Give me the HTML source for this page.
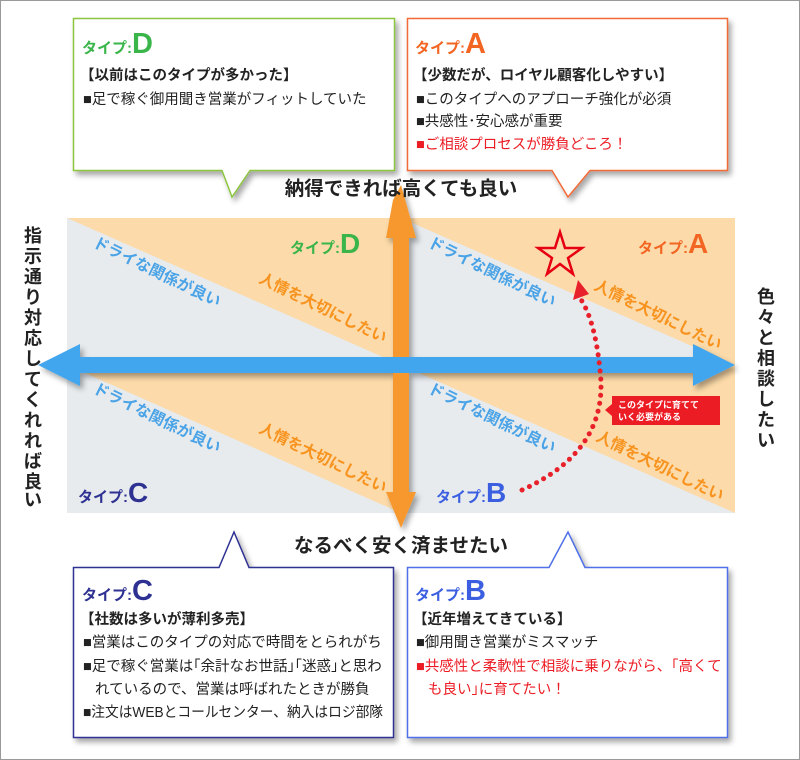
<!DOCTYPE html>
<html><head><meta charset="utf-8"><style>
html,body{margin:0;padding:0;background:#fff}
svg{display:block}
text{font-family:"Liberation Sans","Noto Sans CJK JP",sans-serif}
</style></head><body>
<svg width="800" height="760" viewBox="0 0 800 760" xmlns="http://www.w3.org/2000/svg">
<defs>
<filter id="sh" x="-10%" y="-10%" width="130%" height="130%"><feGaussianBlur in="SourceAlpha" stdDeviation="3"/><feOffset dx="3" dy="4"/><feComponentTransfer><feFuncA type="linear" slope="0.35"/></feComponentTransfer><feMerge><feMergeNode/><feMergeNode in="SourceGraphic"/></feMerge></filter>
<clipPath id="q"><rect x="67" y="218" width="668" height="295"/></clipPath>
</defs>
<rect x="0.5" y="0.5" width="799" height="759" fill="#fff" stroke="#999"/>

<g clip-path="url(#q)">
<rect x="67" y="218" width="668" height="295" fill="#fcdaa9"/>
<polygon points="67,218 401,365 67,365" fill="#e7ebee"/>
<polygon points="401,218 735,365 401,365" fill="#e7ebee"/>
<polygon points="67,365 401,513 67,513" fill="#e7ebee"/>
<polygon points="401,365 735,513 401,513" fill="#e7ebee"/>
</g>

<g font-size="15.5" font-weight="bold">
<text x="92" y="246" fill="#4aa3e6" transform="rotate(26 92 246)">ドライな関係が良い</text>
<text x="258" y="282" fill="#f7931e" transform="rotate(26 258 282)">人情を大切にしたい</text>
<text x="427" y="246" fill="#4aa3e6" transform="rotate(26 427 246)">ドライな関係が良い</text>
<text x="593" y="289" fill="#f7931e" transform="rotate(26 593 289)">人情を大切にしたい</text>
<text x="92" y="392" fill="#4aa3e6" transform="rotate(26 92 392)">ドライな関係が良い</text>
<text x="258" y="432" fill="#f7931e" transform="rotate(26 258 432)">人情を大切にしたい</text>
<text x="427" y="392" fill="#4aa3e6" transform="rotate(26 427 392)">ドライな関係が良い</text>
<text x="595" y="440" fill="#f7931e" transform="rotate(26 595 440)">人情を大切にしたい</text>
</g>

<g font-weight="bold">
<text x="290" y="253" font-size="15" fill="#39b54a">タイプ:<tspan font-size="28">D</tspan></text>
<text x="638" y="253" font-size="15" fill="#f26522">タイプ:<tspan font-size="28">A</tspan></text>
<text x="78" y="502" font-size="15" fill="#2e3192">タイプ:<tspan font-size="28">C</tspan></text>
<text x="436" y="502" font-size="15" fill="#3b5fe0">タイプ:<tspan font-size="28">B</tspan></text>
</g>

<g filter="url(#sh)">
<polygon points="393,200 386,238 393,238 393,492 386,492 401,528 416,492 409,492 409,238 416,238 401,185" fill="#f7982f"/>
<polygon points="38,365 80,344 80,357 693,357 693,344 735,365 693,386 693,373 80,373 80,386" fill="#43a6ee"/>
</g>

<polygon points="560,232 565,248 582,248 568,258 573,274 560,264 547,274 552,258 538,248 555,248" fill="none" stroke="#e60012" stroke-width="2.5"/>

<path d="M522,490 Q610,450 600,370 Q595,320 580,298" fill="none" stroke="#e8202a" stroke-width="5" stroke-linecap="round" stroke-dasharray="0.1 8"/>
<polygon points="573,300 578,280 589,294" fill="#e8202a"/>

<polygon points="612,396 720,396 720,425 612,425 612,416 605,410 612,404" fill="#ec1c24"/>
<text x="618" y="408" font-size="9" font-weight="bold" fill="#fff">このタイプに育てて</text>
<text x="618" y="420" font-size="9" font-weight="bold" fill="#fff">いく必要がある</text>

<g font-size="19.5" font-weight="bold" fill="#222">
<text x="401" y="195" text-anchor="middle">納得できれば高くても良い</text>
<text x="401" y="552" text-anchor="middle">なるべく安く済ませたい</text>
</g>
<g font-size="18" font-weight="bold" fill="#222" text-anchor="middle">
<text x="33" y="242">指</text><text x="33" y="262.5">示</text><text x="33" y="283">通</text><text x="33" y="303.5">り</text><text x="33" y="324">対</text><text x="33" y="344.5">応</text><text x="33" y="365">し</text><text x="33" y="385.5">て</text><text x="33" y="406">く</text><text x="33" y="426.5">れ</text><text x="33" y="447">れ</text><text x="33" y="467.5">ば</text><text x="33" y="488">良</text><text x="33" y="506">い</text>
<text x="766" y="303">色</text><text x="766" y="323.5">々</text><text x="766" y="344">と</text><text x="766" y="364.5">相</text><text x="766" y="385">談</text><text x="766" y="405.5">し</text><text x="766" y="426">た</text><text x="766" y="446.5">い</text>
</g>

<path d="M73.5,18.5 H394.5 V170.5 H250 L232,197 L222,170.5 H73.5 Z" fill="#fff" stroke="#8cc63f" stroke-width="1.5" filter="url(#sh)"/>
<text x="82" y="53" font-size="15" font-weight="bold" fill="#39b54a">タイプ:<tspan font-size="29">D</tspan></text>
<text x="80" y="80" font-size="14.5" font-weight="bold" fill="#222">【以前はこのタイプが多かった】</text>
<text x="83" y="104" font-size="14.5" fill="#222">■足で稼ぐ御用聞き営業がフィットしていた</text>

<path d="M407.5,18.5 H727.5 V170.5 H590 L568,197 L552,170.5 H407.5 Z" fill="#fff" stroke="#f26a36" stroke-width="1.5" filter="url(#sh)"/>
<text x="415" y="53" font-size="15" font-weight="bold" fill="#f26522">タイプ:<tspan font-size="29">A</tspan></text>
<text x="413" y="80" font-size="14.5" font-weight="bold" fill="#222">【少数だが、ロイヤル顧客化しやすい】</text>
<text x="416" y="104" font-size="14.5" fill="#222">■このタイプへのアプローチ強化が必須</text>
<text x="416" y="126" font-size="14.5" fill="#222">■共感性･安心感が重要</text>
<text x="416" y="149" font-size="14.5" fill="#ec1c24">■ご相談プロセスが勝負どころ！</text>

<path d="M73.5,567.5 H219 L234,532 L249,567.5 H393.5 V737.5 H73.5 Z" fill="#fff" stroke="#2e3192" stroke-width="1.5" filter="url(#sh)"/>
<text x="82" y="600" font-size="15" font-weight="bold" fill="#2e3192">タイプ:<tspan font-size="29">C</tspan></text>
<text x="80" y="624" font-size="14.5" font-weight="bold" fill="#222">【社数は多いが薄利多売】</text>
<text x="83" y="647" font-size="14.5" fill="#222">■営業はこのタイプの対応で時間をとられがち</text>
<text x="83" y="671" font-size="14.5" fill="#222">■足で稼ぐ営業は｢余計なお世話｣｢迷惑｣と思わ</text>
<text x="95" y="694" font-size="14.5" fill="#222">れているので、営業は呼ばれたときが勝負</text>
<text x="83" y="717" font-size="14.5" fill="#222" textLength="300" lengthAdjust="spacingAndGlyphs">■注文はWEBとコールセンター、納入はロジ部隊</text>

<path d="M407.5,567.5 H549 L568,532 L585,567.5 H727.5 V737.5 H407.5 Z" fill="#fff" stroke="#4f6fe8" stroke-width="1.5" filter="url(#sh)"/>
<text x="415" y="600" font-size="15" font-weight="bold" fill="#3b5fe0">タイプ:<tspan font-size="29">B</tspan></text>
<text x="413" y="624" font-size="14.5" font-weight="bold" fill="#222">【近年増えてきている】</text>
<text x="416" y="647" font-size="14.5" fill="#222">■御用聞き営業がミスマッチ</text>
<text x="416" y="671" font-size="14.5" fill="#ec1c24">■共感性と柔軟性で相談に乗りながら、｢高くて</text>
<text x="428" y="694" font-size="14.5" fill="#ec1c24">も良い｣に育てたい！</text>
</svg>
</body></html>
